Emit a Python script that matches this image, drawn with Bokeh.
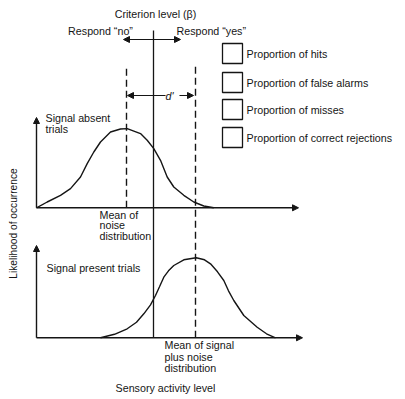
from bokeh.plotting import figure
from bokeh.models import Range1d, Label, Arrow, NormalHead, ColumnDataSource
from bokeh.embed import file_html
from bokeh.resources import INLINE
import math

# ---- data (sensory activity level, likelihood) ----
noise_x = [0, 10.7, 24, 34, 44, 50.7, 57.3, 64, 74, 84, 90.7, 104, 110.7, 117.3,
           124, 130.7, 137.3, 147.3, 157.3, 167.3, 177.3]
noise_y = [0, 5.8, 12.5, 19.2, 30.8, 44.2, 55.8, 65.8, 75.8, 78.8, 79.2, 74.2,
           67.5, 59.2, 47.5, 30.8, 20.8, 12.5, 5.8, 1.8, 0]
signal_x = [64, 78, 90.7, 100, 107.3, 114, 119, 123, 127.3, 132, 137.3, 147.3,
            159.7, 168, 174, 181, 187.3, 192, 197.3, 207.3, 220.7, 230, 239]
signal_y = [0, 3.5, 9, 15.5, 24, 33, 42.3, 51, 60.6, 67, 72.3, 78, 80, 78,
            74, 66, 57.3, 47, 37.3, 22.3, 10.6, 4, 0]
noise_mean = 90
signal_mean = 159
criterion = 117
legend_labels = ["Proportion of hits", "Proportion of false alarms",
                 "Proportion of misses", "Proportion of correct rejections"]

# layout constants
TOP = 130          # baseline of the upper panel
FONT = "Liberation Sans"
FS = "10.7px"
INK = "#151515"

p = figure(width=405, height=399, x_range=Range1d(-36, 369), y_range=Range1d(-61.7, 337.3),
           output_backend="svg", toolbar_location=None, min_border=0,
           x_axis_location=None, y_axis_location=None)
p.grid.visible = False
p.outline_line_color = None
p.background_fill_color = "white"
p.border_fill_color = "white"

def arrow(x0, y0, x1, y1, both=False, w=1.4):
    head = NormalHead(size=6, fill_color=INK, line_color=INK, line_width=1)
    start = NormalHead(size=6, fill_color=INK, line_color=INK, line_width=1) if both else None
    p.add_layout(Arrow(end=head, start=start, x_start=x0, y_start=y0, x_end=x1, y_end=y1,
                       line_color=INK, line_width=w))

# axes of the two panels
arrow(0, TOP, 0, TOP + 90.3)
arrow(0, TOP, 262, TOP)
arrow(0, 0, 0, 92.3)
arrow(0, 0, 266, 0)

# curves
p.line(noise_x, [TOP + y for y in noise_y], line_color=INK, line_width=1.4)
p.line(signal_x, signal_y, line_color=INK, line_width=1.4)

# criterion and mean lines
p.line([criterion, criterion], [0, 307.3], line_color=INK, line_width=1.3)
p.line([noise_mean, noise_mean], [TOP, 272.3], line_color=INK, line_width=1.4, line_dash="7 4")
p.line([signal_mean, signal_mean], [0, 272.3], line_color=INK, line_width=1.4, line_dash="7 4")

# respond arrow and d' arrow
arrow(117, 298.3, 87, 298.3, w=1.1)
arrow(117, 298.3, 144, 298.3, w=1.1)
arrow(noise_mean + 1, 242.3, signal_mean - 2, 242.3, both=True, w=1.1)

def label(x, y, t, align="left", angle=0, bg=None, style="normal", size=FS):
    kw = {}
    if bg:
        kw = dict(background_fill_color=bg, background_fill_alpha=1.0)
    p.add_layout(Label(x=x, y=y, text=t, text_font=FONT, text_font_size=size,
                       text_color=INK, text_align=align, text_baseline="middle",
                       angle=angle, text_font_style=style, **kw))

label(136, 242.3, " d' ", align="center", bg="white", style="italic")
label(119, 324.3, "Criterion level (β)", align="center")
label(64, 307.3, "Respond \u201cno\u201d", align="center")
label(140, 307.3, "Respond \u201cyes\u201d")
label(9, 220.3, "Signal absent")
label(9, 209.0, "trials")
label(63, 123.3, "Mean of")
label(63, 112.6, "noise")
label(63, 102.0, "distribution")
label(10, 70.3, "Signal present trials")
label(128, -6.7, "Mean of signal")
label(128, -18.7, "plus noise")
label(128, -30.0, "distribution")
label(129, -49.7, "Sensory activity level", align="center")
label(-23, 114.3, "Likelihood of occurrence", align="center", angle=math.pi / 2, size="10.2px")

# legend boxes
box_y = [284.3, 255.3, 228.3, 200.3]
src = ColumnDataSource(dict(x=[196] * len(legend_labels), y=box_y, t=legend_labels))
p.rect(x="x", y="y", width=20, height=20, width_units="screen", height_units="screen",
       source=src, fill_color=None, line_color=INK, line_width=1.3)
for yy, t in zip(box_y, legend_labels):
    label(210, yy, t)

open("out.html", "w").write(file_html(p, INLINE))
